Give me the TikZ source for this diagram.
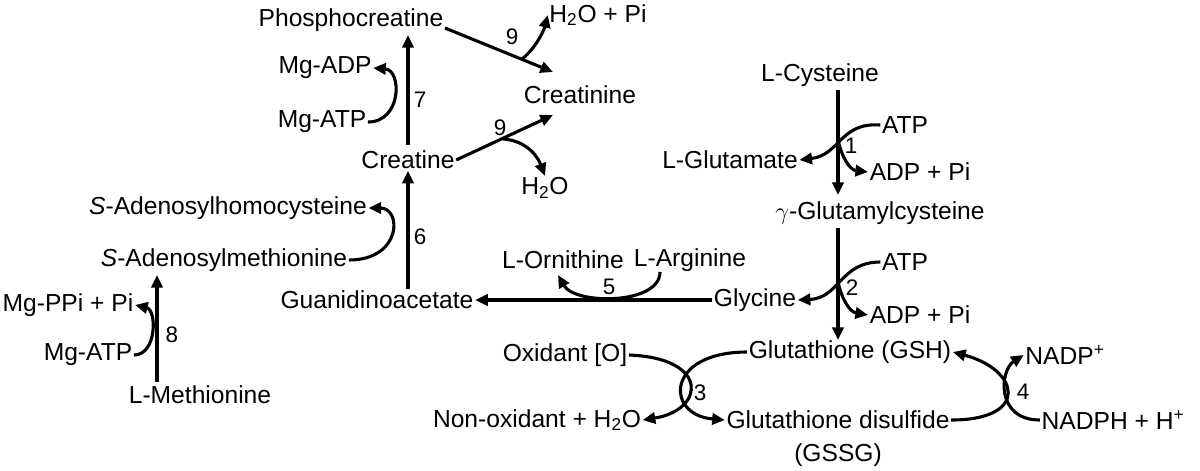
\documentclass[tikz,border=0pt]{standalone}
\usepackage{fontspec}
\setmainfont{Liberation Sans}
\usetikzlibrary{arrows.meta}
\begin{document}
\begin{tikzpicture}[x=0.025cm,y=-0.025cm,
 every node/.style={font=\fontsize{17.5}{20}\selectfont, inner sep=1pt},
 rx/.style={line width=2.2pt, -{Triangle[length=9pt,width=8pt]}},
 cv/.style={line width=2.2pt, -{Triangle[length=9pt,width=8pt]}},
 num/.style={font=\fontsize{16}{18}\selectfont}
]
\useasboundingbox (0,0) rectangle (1200,470);
% creatine branch
\node (pcr) at (351,20) {Phosphocreatine};
\node (cr) at (408,160) {Creatine};
\node (crn) at (580,95) {Creatinine};
\node (wpi) at (598,15) {H\textsubscript{2}O + Pi};
\node (w2) at (545,188) {H\textsubscript{2}O};
\node (madp) at (325,68) {Mg-ADP};
\node (matp) at (322,122) {Mg-ATP};
\node (gaa) at (377,300) {Guanidinoacetate};
\node (sah) at (228,208) {\textit{S}-Adenosylhomocysteine};
\node (sam) at (224,260) {\textit{S}-Adenosylmethionine};
\node (met) at (200,395) {L-Methionine};
\node (matp2) at (88,355) {Mg-ATP};
\node (mppi) at (68,305) {Mg-PPi + Pi};
\node (orn) at (563,260) {L-Ornithine};
\node (arg) at (690,260) {L-Arginine};
\node (gly) at (755,300) {Glycine};
% glutathione branch
\node (cys) at (820,75) {L-Cysteine};
\node (glu) at (730,160) {L-Glutamate};
\node (atp1) at (905,125) {ATP};
\node (adp1) at (920,172) {ADP + Pi};
\node (gc) at (880,213) {$\gamma$-Glutamylcysteine};
\node (atp2) at (905,262) {ATP};
\node (adp2) at (920,315) {ADP + Pi};
\node (gsh) at (850,352) {Glutathione (GSH)};
\node (gssg) at (838,420) {Glutathione disulfide};
\node at (838,455) {(GSSG)};
\node (ox) at (565,355) {Oxidant [O]};
\node (nox) at (537,420) {Non-oxidant + H\textsubscript{2}O};
\node (nadp) at (1065,355) {NADP\textsuperscript{+}};
\node (nadph) at (1113,420) {NADPH + H\textsuperscript{+}};
\coordinate (c9a) at (522,59);
\coordinate (c9b) at (503,139);
\coordinate (c5) at (660,272);
% main arrows
\draw[rx] (408,145) -- (408,35);
\draw[rx] (gaa.north -| cr) -- (cr.south);
\draw[rx] (157,382) -- (157,275);
\draw[rx] (gly.west) -- (gaa.east);
\draw[rx] (445,28) -- (553,72);
\draw[rx] (cr.east) -- (553,115);
\draw[rx] (838,90) -- (838,195);
\draw[rx] (838,228) -- (838,340);
% side reactions
\draw[cv] (matp.east) .. controls (402,122) and (402,70) .. (madp.east);
\node[num] at (420,100) {7};
\draw[cv] (c9a) .. controls (536,48) and (544,30) .. (wpi.west);
\node[num] at (512,37) {9};
\draw[cv] (c9b) .. controls (520,140) and (535,150) .. (w2.north);
\node[num] at (500,128) {9};
\draw[cv] (sam.east) .. controls (402,260) and (402,208) .. (sah.east);
\node[num] at (420,237) {6};
\draw[cv] (matp2.east) .. controls (157,355) and (157,310) .. (mppi.east);
\node[num] at (172,335) {8};
\draw[cv] (c5) .. controls (660,305) and (575,305) .. (558,275);
\node[num] at (609,287) {5};
\draw[cv] (atp1.west) .. controls (840,122) and (840,155) .. (glu.east);
\draw[cv] (838,140) .. controls (842,158) and (850,170) .. (adp1.west);
\node[num] at (851,146) {1};
\draw[cv] (atp2.west) .. controls (840,262) and (840,298) .. (gly.east);
\draw[cv] (838,282) .. controls (842,300) and (850,312) .. (adp2.west);
\node[num] at (852,288) {2};
\draw[cv] (ox.east) .. controls (710,358) and (705,410) .. (nox.east);
\draw[cv] (gsh.west) .. controls (665,352) and (665,415) .. (gssg.west);
\node[num] at (700,393) {3};
\draw[cv] (gssg.east) .. controls (1030,420) and (1020,370) .. (gsh.east);
\draw[cv] (nadph.west) .. controls (995,420) and (1000,370) .. (nadp.west);
\node[num] at (1023,392) {4};
\end{tikzpicture}
\end{document}
